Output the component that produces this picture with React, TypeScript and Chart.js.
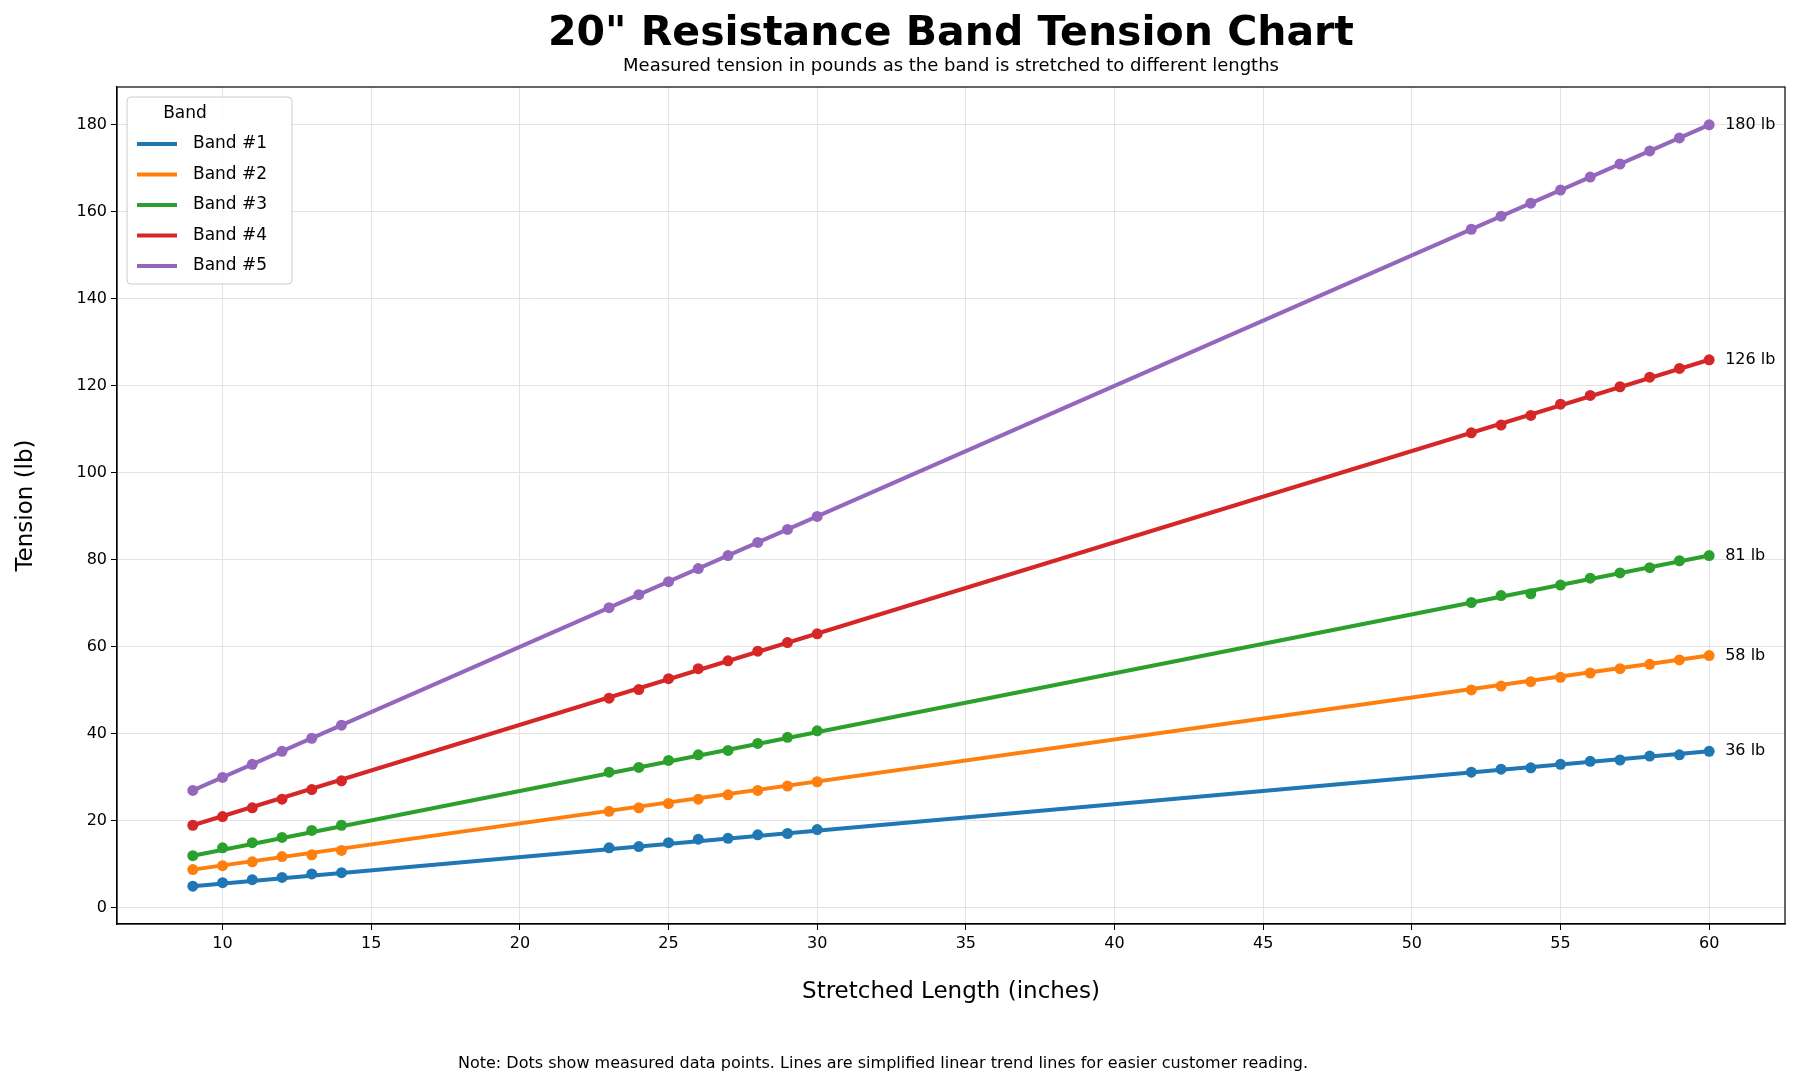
import React, { useEffect, useRef } from "react";
import { Chart, registerables } from "chart.js";
Chart.register(...registerables);

const xs = [9, 10, 11, 12, 13, 14, 23, 24, 25, 26, 27, 28, 29, 30, 52, 53, 54, 55, 56, 57, 58, 59, 60];
const band1 = [5, 5.8, 6.5, 7, 7.8, 8.1, 13.8, 14.1, 15, 15.8, 16, 16.8, 17.1, 18, 31.2, 31.9, 32.2, 33, 33.7, 34, 34.9, 35.2, 36];
const band2 = [8.8, 9.7, 10.6, 11.8, 12.2, 13.2, 22.2, 23, 24, 25, 26, 27, 28, 29, 50.1, 51, 52, 53, 54, 55, 56, 57, 58];
const band3 = [12, 13.8, 15, 16.2, 17.8, 19, 31.2, 32.3, 33.9, 35.2, 36.2, 37.8, 39.2, 40.7, 70.2, 71.8, 72.2, 74.2, 75.8, 77, 78.2, 79.8, 81];
const band4 = [19, 21, 23, 25, 27.2, 29.2, 48.2, 50.2, 52.7, 55, 56.8, 59, 61, 63, 109.2, 111, 113.2, 115.8, 117.8, 119.8, 122, 124, 126];
const band5 = [27, 30, 33, 36, 39, 42, 69, 72, 75, 78, 81, 84, 87, 90, 156, 159, 162, 165, 168, 171, 174, 177, 180];
const trendX = [9, 60];
const trendStart = [5, 8.8, 12, 19, 27];
const trendEnd = [36, 58, 81, 126, 180];
const names = ["Band #1", "Band #2", "Band #3", "Band #4", "Band #5"];
const endLabels = ["36 lb", "58 lb", "81 lb", "126 lb", "180 lb"];
const colors = ["#1f77b4", "#ff7f0e", "#2ca02c", "#d62728", "#9467bd"];
const bands = [band1, band2, band3, band4, band5];
const xTicks = [10, 15, 20, 25, 30, 35, 40, 45, 50, 55, 60];

const FONT = "'DejaVu Sans', sans-serif";

export default function App() {
  const ref = useRef<HTMLCanvasElement>(null);
  useEffect(() => {
    document.body.style.margin = "0";
    const datasets: any[] = [];
    bands.forEach((b, i) => {
      datasets.push({
        label: names[i],
        data: trendX.map((x, j) => ({ x, y: j === 0 ? trendStart[i] : trendEnd[i] })),
        borderColor: colors[i],
        backgroundColor: colors[i],
        borderWidth: 4,
        pointRadius: 0,
        showLine: true,
        order: 2,
      });
      datasets.push({
        label: names[i] + " pts",
        data: xs.map((x, j) => ({ x, y: b[j] })),
        borderColor: colors[i],
        backgroundColor: colors[i],
        pointRadius: 5.5,
        pointBorderWidth: 0,
        showLine: false,
        order: 1,
      });
    });
    const deco = {
      id: "deco",
      afterDraw(c: any) {
        const ctx = c.ctx;
        const a = c.chartArea;
        const xS = c.scales.x, yS = c.scales.y;
        ctx.save();
        ctx.strokeStyle = "#000";
        ctx.lineWidth = 1.2;
        ctx.strokeRect(a.left, a.top, a.right - a.left, a.bottom - a.top);
        ctx.fillStyle = "#000";
        ctx.textAlign = "center";
        ctx.textBaseline = "middle";
        ctx.font = `bold 41px ${FONT}`;
        ctx.fillText('20" Resistance Band Tension Chart', (a.left + a.right) / 2, 34);
        ctx.font = `18px ${FONT}`;
        ctx.fillText("Measured tension in pounds as the band is stretched to different lengths", (a.left + a.right) / 2, 66);
        ctx.font = `23px ${FONT}`;
        ctx.fillText("Stretched Length (inches)", (a.left + a.right) / 2, 992);
        ctx.font = `16px ${FONT}`;
        ctx.fillText("Note: Dots show measured data points. Lines are simplified linear trend lines for easier customer reading.", 883, 1064);
        ctx.save();
        ctx.translate(26, (a.top + a.bottom) / 2);
        ctx.rotate(-Math.PI / 2);
        ctx.font = `23px ${FONT}`;
        ctx.fillText("Tension (lb)", 0, 0);
        ctx.restore();
        ctx.textAlign = "left";
        ctx.font = `16px ${FONT}`;
        endLabels.forEach((t, i) => {
          ctx.fillText(t, xS.getPixelForValue(60) + 16, yS.getPixelForValue(trendEnd[i]));
        });
        const lx = a.left + 10, ly = a.top + 10, lw = 165, lh = 187;
        ctx.fillStyle = "rgba(255,255,255,0.85)";
        ctx.strokeStyle = "#ccc";
        ctx.lineWidth = 1;
        ctx.beginPath();
        ctx.roundRect(lx, ly, lw, lh, 4);
        ctx.fill();
        ctx.stroke();
        ctx.fillStyle = "#000";
        ctx.textAlign = "center";
        ctx.font = `17px ${FONT}`;
        ctx.fillText("Band", lx + 58, ly + 17);
        ctx.textAlign = "left";
        names.forEach((n, i) => {
          const yy = ly + 47 + i * 30.5;
          ctx.strokeStyle = colors[i];
          ctx.lineWidth = 4;
          ctx.beginPath();
          ctx.moveTo(lx + 10, yy);
          ctx.lineTo(lx + 50, yy);
          ctx.stroke();
          ctx.fillStyle = "#000";
          ctx.fillText(n, lx + 66, yy);
        });
        ctx.restore();
      },
    };
    const chart = new Chart(ref.current!, {
      type: "scatter",
      data: { datasets },
      plugins: [deco],
      options: {
        animation: false,
        responsive: false,
        layout: { padding: { left: 0, top: 87, right: 15, bottom: 0 } },
        plugins: { legend: { display: false }, tooltip: { enabled: false } },
        scales: {
          x: {
            type: "linear",
            min: 6.45,
            max: 62.55,
            afterFit: (s: any) => { s.height = 166; },
            afterBuildTicks: (s: any) => { s.ticks = xTicks.map((v) => ({ value: v })); },
            grid: { color: "#e3e3e3", tickColor: "#000", tickLength: 6 },
            border: { color: "#000", width: 1.2 },
            ticks: { color: "#000", font: { family: FONT, size: 16 }, padding: 4 },
          },
          y: {
            min: -3.7,
            max: 188.7,
            afterFit: (s: any) => { s.width = 117; },
            afterBuildTicks: (s: any) => { s.ticks = [0, 20, 40, 60, 80, 100, 120, 140, 160, 180].map((v) => ({ value: v })); },
            grid: { color: "#e3e3e3", tickColor: "#000", tickLength: 6 },
            border: { color: "#000", width: 1.2 },
            ticks: { color: "#000", font: { family: FONT, size: 16 }, padding: 4 },
          },
        },
      } as any,
    });
    return () => chart.destroy();
  }, []);
  return <canvas ref={ref} width={1800} height={1090} style={{ display: "block" }} />;
}
